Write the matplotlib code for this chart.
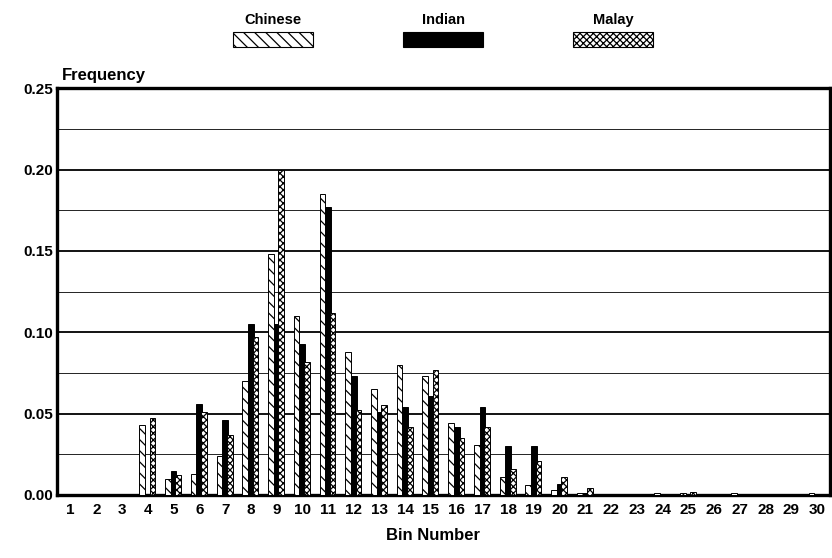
import matplotlib

matplotlib.use("Agg")
import matplotlib.pyplot as plt
import numpy as np
from matplotlib.patches import Rectangle
from matplotlib.ticker import FormatStrFormatter, MultipleLocator

bins = list(range(1, 31))
chinese = [0, 0, 0, 0.043, 0.010, 0.013, 0.024, 0.070, 0.148, 0.110,
           0.185, 0.088, 0.065, 0.080, 0.073, 0.044, 0.031, 0.011, 0.006, 0.003,
           0.001, 0, 0, 0.001, 0.001, 0, 0.001, 0, 0, 0.001]
indian = [0, 0, 0, 0, 0.015, 0.056, 0.046, 0.105, 0.105, 0.093,
          0.177, 0.073, 0.051, 0.054, 0.061, 0.042, 0.054, 0.030, 0.030, 0.007,
          0.001, 0, 0, 0, 0, 0, 0, 0, 0, 0]
malay = [0, 0, 0, 0.047, 0.012, 0.051, 0.037, 0.097, 0.200, 0.082,
         0.112, 0.052, 0.055, 0.042, 0.077, 0.035, 0.042, 0.016, 0.021, 0.011,
         0.004, 0, 0, 0, 0.002, 0, 0, 0, 0, 0]
groups = ["Chinese", "Indian", "Malay"]

plt.rcParams["font.family"] = ["Liberation Sans", "DejaVu Sans"]
plt.rcParams["font.weight"] = "bold"
plt.rcParams["hatch.linewidth"] = 0.9

styles = {
    "Chinese": dict(facecolor="white", edgecolor="black", hatch="\\\\\\"),
    "Indian": dict(facecolor="black", edgecolor="black"),
    "Malay": dict(facecolor="white", edgecolor="black", hatch="xxxxx"),
}
offsets = {"Chinese": -0.22, "Indian": 0.0, "Malay": 0.18}
width = 0.22

fig = plt.figure(figsize=(8.32, 5.58), dpi=100)
ax = fig.add_axes([0.0685, 0.113, 0.929, 0.729])

x = np.array(bins, dtype=float)
for name, vals in zip(groups, [chinese, indian, malay]):
    ax.bar(x + offsets[name], vals, width=width, linewidth=0.7, zorder=3, **styles[name])

ax.set_xlim(0.47, 30.5)
ax.set_ylim(0, 0.25)
ax.yaxis.set_major_locator(MultipleLocator(0.05))
ax.yaxis.set_minor_locator(MultipleLocator(0.025))
ax.yaxis.set_major_formatter(FormatStrFormatter("%.2f"))
ax.set_xticks(bins)
ax.set_xticklabels([str(b) for b in bins])
ax.grid(axis="y", which="major", color="black", linewidth=1.3, zorder=0)
ax.grid(axis="y", which="minor", color="black", linewidth=0.6, zorder=0)
ax.set_axisbelow(True)
ax.tick_params(which="both", length=0, labelsize=11)
ax.tick_params(axis="x", pad=6)
ax.tick_params(axis="y", pad=3)
for lbl in ax.get_xticklabels() + ax.get_yticklabels():
    lbl.set_fontweight("bold")
for sp in ax.spines.values():
    sp.set_linewidth(2.4)

fig.text(0.074, 0.852, "Frequency", fontsize=12, fontweight="bold", ha="left", va="bottom")
fig.text(0.52, 0.04, "Bin Number", fontsize=12, fontweight="bold", ha="center", va="center")

# legend: label above a swatch
legend_x = [233, 403, 573]
for name, lx in zip(groups, legend_x):
    fig.patches.append(Rectangle((lx / 832, 1 - 47 / 558), 80 / 832, 15 / 558,
                                 transform=fig.transFigure, figure=fig,
                                 linewidth=0.8, **styles[name]))
    fig.text((lx + 40) / 832, 1 - 20 / 558, name, fontsize=10.5, fontweight="bold",
             ha="center", va="center")

fig.savefig("out.png", dpi=100)
